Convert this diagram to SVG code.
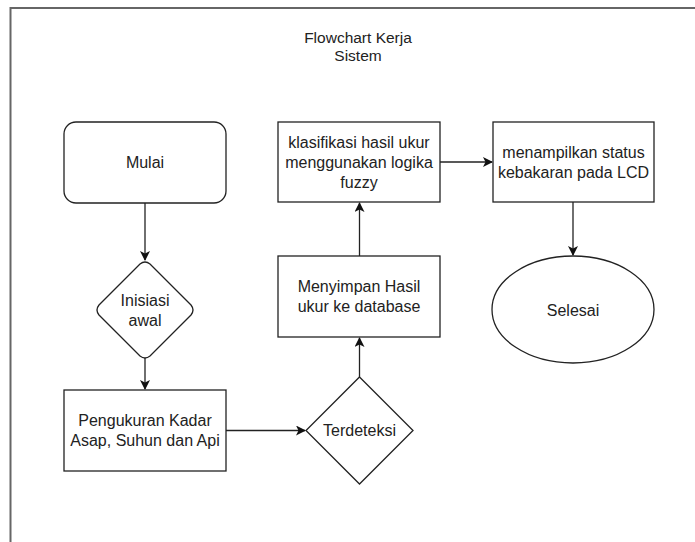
<svg xmlns="http://www.w3.org/2000/svg" width="695" height="542" viewBox="0 0 695 542">
<style>
.n{fill:#fff;stroke:#222;stroke-width:1.3}
.t{font-family:"Liberation Sans",Arial,sans-serif;font-size:16px;fill:#222;text-anchor:middle}
.ti{font-family:"Liberation Sans",Arial,sans-serif;font-size:15.5px;fill:#222;text-anchor:middle}
.c{fill:none;stroke:#222;stroke-width:1.3}
</style>
<defs>
<marker id="ah" viewBox="0 0 10 10" refX="9" refY="5" markerWidth="10" markerHeight="10" markerUnits="userSpaceOnUse" orient="auto">
<path d="M0,0 L10,5 L0,10 L2.5,5 Z" fill="#111"/>
</marker>
</defs>
<rect width="695" height="542" fill="#fff"/>
<path d="M10.5,545 L10.5,8 L700,8" fill="none" stroke="#666" stroke-width="2"/>
<g id="title">
<text class="ti" x="358" y="43">Flowchart Kerja</text>
<text class="ti" x="358" y="61">Sistem</text>
</g>
<g id="connectors">
<path class="c" d="M145,203 L145,260" marker-end="url(#ah)"/>
<path class="c" d="M145,358 L145,389" marker-end="url(#ah)"/>
<path class="c" d="M226,430.5 L305,430.5" marker-end="url(#ah)"/>
<path class="c" d="M359.5,377 L359.5,338" marker-end="url(#ah)"/>
<path class="c" d="M359.5,256 L359.5,203" marker-end="url(#ah)"/>
<path class="c" d="M440,162 L492,162" marker-end="url(#ah)"/>
<path class="c" d="M573,202 L573,255" marker-end="url(#ah)"/>
</g>
<g id="mulai">
<rect class="n" x="64" y="122" width="162" height="81" rx="12"/>
<text class="t" x="145" y="168">Mulai</text>
</g>
<g id="inisiasi">
<path class="n" d="M140,264 Q145,260 150,264 L191,305 Q195,310 191,315 L150,356 Q145,360 140,356 L99,315 Q95,310 99,305 Z"/>
<text class="t" x="145" y="305.5">Inisiasi</text>
<text class="t" x="145" y="325.5">awal</text>
</g>
<g id="pengukuran">
<rect class="n" x="64" y="390" width="162" height="81"/>
<text class="t" x="145" y="426">Pengukuran Kadar</text>
<text class="t" x="145" y="446">Asap, Suhun dan Api</text>
</g>
<g id="terdeteksi">
<path class="n" d="M359.5,377 L413,430.5 L359.5,484 L306,430.5 Z"/>
<text class="t" x="359.5" y="436">Terdeteksi</text>
</g>
<g id="menyimpan">
<rect class="n" x="278" y="256" width="162" height="81"/>
<text class="t" x="359" y="292">Menyimpan Hasil</text>
<text class="t" x="359" y="312">ukur ke database</text>
</g>
<g id="klasifikasi">
<rect class="n" x="278" y="122" width="162" height="80"/>
<text class="t" x="359" y="148">klasifikasi hasil ukur</text>
<text class="t" x="359" y="168">menggunakan logika</text>
<text class="t" x="359" y="188">fuzzy</text>
</g>
<g id="menampilkan">
<rect class="n" x="493" y="122" width="161" height="80"/>
<text class="t" x="573.5" y="158">menampilkan status</text>
<text class="t" x="573.5" y="178">kebakaran pada LCD</text>
</g>
<g id="selesai">
<ellipse class="n" cx="573" cy="309.5" rx="81" ry="53.5"/>
<text class="t" x="573" y="315.5">Selesai</text>
</g>
</svg>
